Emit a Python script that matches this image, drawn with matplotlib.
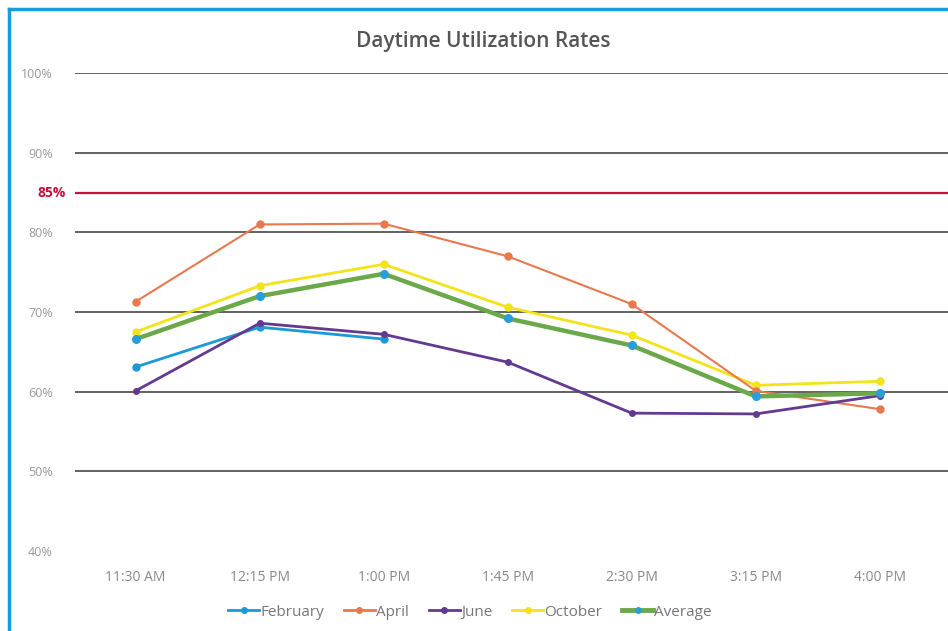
import matplotlib.pyplot as plt
from matplotlib.lines import Line2D

times = ['11:30 AM', '12:15 PM', '1:00 PM', '1:45 PM', '2:30 PM', '3:15 PM', '4:00 PM']
february = [63.1, 68.1, 66.6]
april = [71.3, 81.0, 81.1, 77.0, 71.0, 60.1, 57.8]
june = [60.1, 68.6, 67.2, 63.7, 57.3, 57.2, 59.5]
october = [67.5, 73.3, 76.0, 70.6, 67.1, 60.8, 61.3]
average = [66.6, 72.0, 74.8, 69.2, 65.8, 59.4, 59.8]
yticks = [40, 50, 60, 70, 80, 90, 100]
target = 85

plt.rcParams['font.family'] = ['Open Sans', 'DejaVu Sans']

fig = plt.figure(figsize=(9.48, 6.31), dpi=100)
ax = fig.add_axes([0.079, 0.127, 0.921, 0.757])

for y in yticks[1:]:
    ax.axhline(y, color='#555555', lw=1.3, zorder=1)
ax.axhline(target, color='#c8103c', lw=1.6, zorder=1)

x = list(range(len(times)))
ax.plot(x[:len(february)], february, color='#1a9ad8', lw=2, marker='o', ms=5, zorder=3)
ax.plot(x, april, color='#e8784d', lw=1.5, marker='o', ms=5, zorder=3)
ax.plot(x, june, color='#643a91', lw=2, marker='o', ms=4, zorder=3)
ax.plot(x, october, color='#f2e31a', lw=2, marker='o', ms=5, zorder=2)
ax.plot(x, average, color='#6aa84a', lw=3.2, marker='o', ms=5.5,
        markerfacecolor='#2a9ed6', markeredgecolor='#2a9ed6', zorder=4)

ax.set_xlim(-0.49, 6.55)
ax.set_ylim(40, 100)
ax.set_xticks(x)
ax.set_xticklabels(times, color='#888888', fontsize=10)
ax.set_yticks(yticks)
ax.set_yticklabels([f'{v}%' for v in yticks], color='#999999', fontsize=9)
ax.tick_params(length=0, pad=14)
ax.tick_params(axis='y', pad=16)
for s in ax.spines.values():
    s.set_visible(False)

ax.text(-0.56, target, '85%', color='#c8103c', fontsize=10, fontweight='bold',
        ha='right', va='center')

fig.text(0.51, 0.935, 'Daytime Utilization Rates', ha='center', va='center',
         fontsize=15, fontweight='semibold', color='#555555')

handles = [
    Line2D([], [], color='#1a9ad8', lw=2, marker='o', ms=4),
    Line2D([], [], color='#e8784d', lw=2, marker='o', ms=4),
    Line2D([], [], color='#643a91', lw=2, marker='o', ms=4),
    Line2D([], [], color='#f2e31a', lw=2, marker='o', ms=4),
    Line2D([], [], color='#6aa84a', lw=3.5, marker='o', ms=4,
           markerfacecolor='#2a9ed6', markeredgecolor='#2a9ed6'),
]
fig.legend(handles, ['February', 'April', 'June', 'October', 'Average'],
           loc='center', bbox_to_anchor=(0.496, 0.03), ncol=5, frameon=False,
           fontsize=11, labelcolor='#777777', handlelength=2.0,
           handletextpad=0.1, columnspacing=1.3)

fig.add_artist(Line2D([0.009, 0.009], [0, 0.985], color='#1a9ad8', lw=2.5,
                      transform=fig.transFigure))
fig.add_artist(Line2D([0.009, 1.0], [0.985, 0.985], color='#1a9ad8', lw=2.5,
                      transform=fig.transFigure))

fig.savefig('out.png', dpi=100)
